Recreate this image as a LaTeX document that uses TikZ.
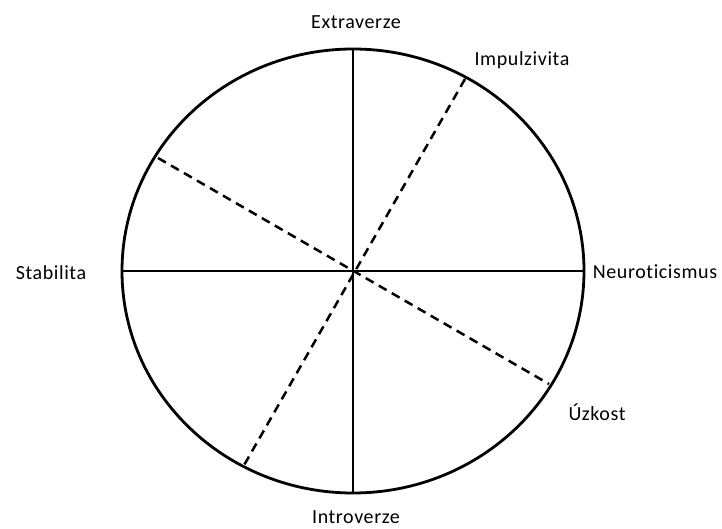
\documentclass[tikz,border=0pt]{standalone}
\usepackage{fontspec}
\setmainfont{Carlito}[Ligatures=NoCommon, LetterSpace=3]
\begin{document}
\begin{tikzpicture}[x=1pt,y=-1pt,
  axis/.style={line width=2.8pt},
  dashline/.style={line width=2.5pt, dash pattern=on 9pt off 6pt},
  lbl/.style={font=\fontsize{20}{22}\selectfont, inner sep=0pt}]
\useasboundingbox (0,0) rectangle (722,529);
\coordinate (c) at (353,271);
\draw[axis] (c) ellipse [x radius=231, y radius=222];
\coordinate (t) at (353,49);
\coordinate (b) at (353,493);
\coordinate (l) at (122,271);
\coordinate (r) at (584,271);
\draw[axis] (t) -- (b);
\draw[axis] (l) -- (r);
\coordinate (d1a) at (465,79);
\coordinate (d1b) at (243,467);
\coordinate (d2a) at (158,158);
\coordinate (d2b) at (549,384);
\draw[dashline] (d1a) -- (d1b);
\draw[dashline] (d2a) -- (d2b);
\node[lbl] (ex) at (356,22) {Extraverze};
\node[lbl] (im) at (522,60) {Impulzivita};
\node[lbl] (st) at (51,273) {Stabilita};
\node[lbl] (ne) at (655,272) {Neuroticismus};
\node[lbl] (uz) at (597,412) {Úzkost};
\node[lbl] (in) at (356,517) {Introverze};
\end{tikzpicture}
\end{document}
